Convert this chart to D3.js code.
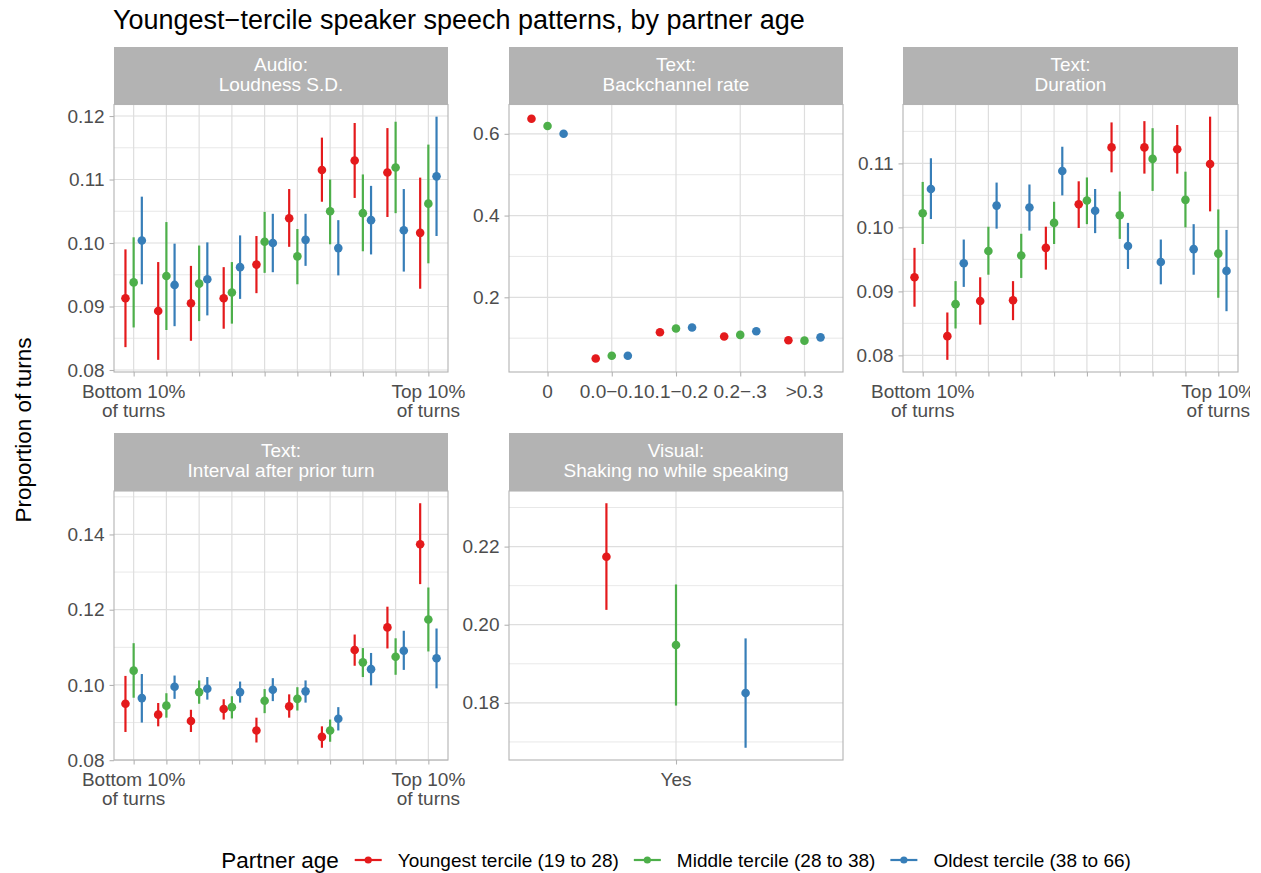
<!DOCTYPE html>
<html>
<head>
<meta charset="utf-8">
<script src="https://d3js.org/d3.v7.min.js"></script>
<style>
body { margin: 0; background: #fff; }
svg { font-family: "Liberation Sans", Arial, sans-serif; }
</style>
</head>
<body>
<svg width="1261" height="873"></svg>
<script>
// ---- data (estimate, lower, upper) ----
var terciles = ["Youngest tercile (19 to 28)", "Middle tercile (28 to 38)", "Oldest tercile (38 to 66)"];
var tercileColors = ["#e41a1c", "#4daf4a", "#377eb8"];

var decileCats = ["1", "2", "3", "4", "5", "6", "7", "8", "9", "10"];
var decileLabels = [["Bottom 10%", "of turns"], [], [], [], [], [], [], [], [], ["Top 10%", "of turns"]];
var backchannelCats = ["0", "0.0\u22120.1", "0.1\u22120.2", "0.2\u2212.3", ">0.3"];
var shakingCats = ["Yes"];

var loudnessYoungest = [[0.0913,0.0836,0.0990],[0.0893,0.0816,0.0970],[0.0905,0.0846,0.0964],[0.0913,0.0865,0.0962],[0.0966,0.0921,0.1011],
  [0.1039,0.0994,0.1085],[0.1115,0.1065,0.1166],[0.1130,0.1071,0.1189],[0.1111,0.1041,0.1181],[0.1016,0.0928,0.1103]];
var loudnessMiddle = [[0.0938,0.0867,0.1009],[0.0948,0.0863,0.1033],[0.0936,0.0877,0.0996],[0.0922,0.0873,0.0970],[0.1002,0.0953,0.1049],
  [0.0979,0.0935,0.1022],[0.1050,0.0998,0.1100],[0.1047,0.0987,0.1108],[0.1119,0.1047,0.1191],[0.1062,0.0968,0.1155]];
var loudnessOldest = [[0.1004,0.0935,0.1073],[0.0934,0.0869,0.0999],[0.0943,0.0886,0.1001],[0.0962,0.0912,0.1012],[0.1000,0.0954,0.1046],
  [0.1005,0.0964,0.1046],[0.0992,0.0949,0.1036],[0.1036,0.0982,0.1090],[0.1020,0.0955,0.1085],[0.1105,0.1011,0.1199]];

var backchannelYoungest = [[0.637,0.632,0.642],[0.0504,0.047,0.054],[0.1146,0.111,0.118],[0.104,0.100,0.108],[0.095,0.091,0.099]];
var backchannelMiddle = [[0.619,0.614,0.624],[0.0569,0.053,0.061],[0.1236,0.120,0.127],[0.108,0.104,0.112],[0.094,0.090,0.098]];
var backchannelOldest = [[0.600,0.595,0.605],[0.0569,0.053,0.061],[0.126,0.122,0.130],[0.117,0.113,0.121],[0.102,0.098,0.106]];

var durationYoungest = [[0.0922,0.0876,0.0968],[0.0830,0.0793,0.0867],[0.0885,0.0848,0.0922],[0.0886,0.0855,0.0916],[0.0968,0.0934,0.1001],
  [0.1036,0.0999,0.1072],[0.1125,0.1086,0.1164],[0.1125,0.1084,0.1166],[0.1122,0.1084,0.1160],[0.1099,0.1025,0.1173]];
var durationMiddle = [[0.1022,0.0974,0.1071],[0.0880,0.0842,0.0916],[0.0963,0.0926,0.1001],[0.0956,0.0921,0.0990],[0.1007,0.0974,0.1040],
  [0.1042,0.1005,0.1078],[0.1019,0.0982,0.1056],[0.1107,0.1057,0.1155],[0.1043,0.1000,0.1087],[0.0959,0.0890,0.1028]];
var durationOldest = [[0.1060,0.1013,0.1108],[0.0944,0.0907,0.0981],[0.1034,0.0998,0.1070],[0.1031,0.0995,0.1067],[0.1088,0.1050,0.1126],
  [0.1026,0.0991,0.1060],[0.0971,0.0935,0.1007],[0.0946,0.0911,0.0981],[0.0966,0.0926,0.1005],[0.0932,0.0869,0.0996]];

var intervalYoungest = [[0.0950,0.0875,0.1024],[0.0921,0.0890,0.0952],[0.0904,0.0875,0.0934],[0.0936,0.0908,0.0962],[0.0879,0.0847,0.0913],
  [0.0943,0.0913,0.0975],[0.0862,0.0833,0.0890],[0.1093,0.1051,0.1134],[0.1153,0.1097,0.1208],[0.1374,0.1268,0.1483]];
var intervalMiddle = [[0.1038,0.0966,0.1111],[0.0945,0.0913,0.0978],[0.0981,0.0950,0.1012],[0.0941,0.0911,0.0970],[0.0958,0.0925,0.0989],
  [0.0963,0.0932,0.0994],[0.0879,0.0849,0.0908],[0.1060,0.1021,0.1098],[0.1075,0.1027,0.1124],[0.1174,0.1089,0.1259]];
var intervalOldest = [[0.0965,0.0900,0.1029],[0.0995,0.0963,0.1025],[0.0990,0.0961,0.1021],[0.0981,0.0953,0.1009],[0.0987,0.0957,0.1018],
  [0.0983,0.0953,0.1012],[0.0910,0.0879,0.0941],[0.1042,0.0999,0.1085],[0.1091,0.1040,0.1144],[0.1071,0.0991,0.1150]];

var shakingYoungest = [[0.2174,0.2038,0.2311]];
var shakingMiddle = [[0.1948,0.1793,0.2103]];
var shakingOldest = [[0.1825,0.1685,0.1965]];

var loudnessTicks = [0.08, 0.09, 0.10, 0.11, 0.12];
var backchannelTicks = [0.2, 0.4, 0.6];
var durationTicks = [0.08, 0.09, 0.10, 0.11];
var intervalTicks = [0.08, 0.10, 0.12, 0.14];
var shakingTicks = [0.18, 0.20, 0.22];

var panels = [
  {strip: ["Audio:", "Loudness S.D."], col: 0, row: 0, cats: decileCats, labels: decileLabels,
    series: [loudnessYoungest, loudnessMiddle, loudnessOldest], ticks: loudnessTicks, fmt: ".2f"},
  {strip: ["Text:", "Backchannel rate"], col: 1, row: 0, cats: backchannelCats, labels: backchannelCats.map(function(d){ return [d]; }),
    series: [backchannelYoungest, backchannelMiddle, backchannelOldest], ticks: backchannelTicks, fmt: ".1f"},
  {strip: ["Text:", "Duration"], col: 2, row: 0, cats: decileCats, labels: decileLabels,
    series: [durationYoungest, durationMiddle, durationOldest], ticks: durationTicks, fmt: ".2f"},
  {strip: ["Text:", "Interval after prior turn"], col: 0, row: 1, cats: decileCats, labels: decileLabels,
    series: [intervalYoungest, intervalMiddle, intervalOldest], ticks: intervalTicks, fmt: ".2f"},
  {strip: ["Visual:", "Shaking no while speaking"], col: 1, row: 1, cats: shakingCats, labels: [["Yes"]],
    series: [shakingYoungest, shakingMiddle, shakingOldest], ticks: shakingTicks, fmt: ".2f"}
];

// ---- layout ----
var cols = [[114, 448], [509, 843], [903, 1238]];
var rows = [{strip: 47, top: 104.5, bottom: 372}, {strip: 433, top: 491, bottom: 760}];
var grey70 = '#b3b3b3', grey87 = '#dedede', grey30 = '#4d4d4d';
var smallSize = 19;

var svg = d3.select('svg');
svg.append('defs').append('clipPath').attr('id', 'page')
  .append('rect').attr('width', 1250).attr('height', 873);
var root = svg.append('g').attr('clip-path', 'url(#page)');

root.append('text')
  .text('Youngest\u2212tercile speaker speech patterns, by partner age')
  .attr('x', 113).attr('y', 29)
  .attr('font-size', 27).attr('fill', '#000');

root.append('text')
  .text('Proportion of turns')
  .attr('transform', 'translate(31,430)rotate(-90)')
  .style('text-anchor', 'middle')
  .attr('font-size', 22.5).attr('fill', '#000');

panels.forEach(drawPanel);

function drawPanel(p) {
  var c = cols[p.col], r = rows[p.row];
  var g = root.append('g');

  var x = d3.scalePoint().domain(p.cats).range(c).padding(0.6);
  var vals = [];
  p.series.forEach(function(s) { s.forEach(function(d) { vals.push(d[1], d[2]); }); });
  var lo = d3.min(vals), hi = d3.max(vals), pad = (hi - lo) * 0.05;
  var y = d3.scaleLinear().domain([lo - pad, hi + pad]).range([r.bottom, r.top]);

  // strip
  g.append('rect')
    .attr('x', c[0]).attr('y', r.strip)
    .attr('width', c[1] - c[0]).attr('height', r.top - r.strip)
    .attr('fill', grey70);
  p.strip.forEach(function(line, i) {
    g.append('text').text(line)
      .attr('x', (c[0] + c[1]) / 2).attr('y', r.strip + 24 + i * 20)
      .style('text-anchor', 'middle')
      .attr('font-size', smallSize).attr('fill', '#fff');
  });

  // grid
  var step = p.ticks[1] - p.ticks[0];
  var dom = y.domain();
  var minor = p.ticks.map(function(t) { return t - step / 2; })
    .concat([p.ticks[p.ticks.length - 1] + step / 2])
    .filter(function(v) { return v >= dom[0] && v <= dom[1]; });

  g.selectAll('.minor').data(minor).enter().append('line')
    .attr('x1', c[0]).attr('x2', c[1])
    .attr('y1', function(d) { return y(d); }).attr('y2', function(d) { return y(d); })
    .attr('stroke', grey87).attr('stroke-width', 0.7);
  g.selectAll('.major').data(p.ticks).enter().append('line')
    .attr('x1', c[0]).attr('x2', c[1])
    .attr('y1', function(d) { return y(d); }).attr('y2', function(d) { return y(d); })
    .attr('stroke', grey87).attr('stroke-width', 1.2);
  g.selectAll('.vmajor').data(p.cats).enter().append('line')
    .attr('x1', function(d) { return x(d); }).attr('x2', function(d) { return x(d); })
    .attr('y1', r.top).attr('y2', r.bottom)
    .attr('stroke', grey87).attr('stroke-width', 1.2);

  // axes
  var ya = g.append('g')
    .attr('transform', 'translate(' + c[0] + ',0)')
    .call(d3.axisLeft(y).tickValues(p.ticks).tickFormat(d3.format(p.fmt)).tickSize(4.5).tickPadding(5));
  ya.select('.domain').remove();
  ya.selectAll('line').attr('stroke', grey70).attr('stroke-width', 1.1);
  ya.selectAll('text').attr('fill', grey30).attr('font-size', smallSize)
    .attr('font-family', '"Liberation Sans", Arial, sans-serif');

  var xa = g.append('g')
    .attr('transform', 'translate(0,' + r.bottom + ')')
    .call(d3.axisBottom(x).tickSize(4.5).tickFormat(''));
  xa.select('.domain').remove();
  xa.selectAll('line').attr('stroke', grey70).attr('stroke-width', 1.1);

  p.cats.forEach(function(cat, i) {
    var t = g.append('text')
      .attr('x', x(cat)).attr('y', r.bottom + 26)
      .style('text-anchor', 'middle')
      .attr('font-size', smallSize).attr('fill', grey30);
    p.labels[i].forEach(function(line, j) {
      t.append('tspan').text(line).attr('x', x(cat)).attr('dy', j === 0 ? 0 : 19);
    });
  });

  // point ranges
  p.series.forEach(function(s, k) {
    var off = (k - 1) * 0.25 * x.step();
    g.selectAll('.range' + k).data(s).enter().append('line')
      .attr('x1', function(d, i) { return x(p.cats[i]) + off; })
      .attr('x2', function(d, i) { return x(p.cats[i]) + off; })
      .attr('y1', function(d) { return y(d[1]); })
      .attr('y2', function(d) { return y(d[2]); })
      .attr('stroke', tercileColors[k]).attr('stroke-width', 2.2);
    g.selectAll('.pt' + k).data(s).enter().append('circle')
      .attr('cx', function(d, i) { return x(p.cats[i]) + off; })
      .attr('cy', function(d) { return y(d[0]); })
      .attr('r', 4.3)
      .attr('fill', tercileColors[k]);
  });

  // panel border
  g.append('rect')
    .attr('x', c[0]).attr('y', r.top)
    .attr('width', c[1] - c[0]).attr('height', r.bottom - r.top)
    .attr('fill', 'none').attr('stroke', grey70).attr('stroke-width', 1.1);
}

// ---- legend ----
var legend = root.append('g');
var lx = 0;
var ltitle = legend.append('text').text('Partner age')
  .attr('x', lx).attr('y', 868).attr('font-size', 22.5).attr('fill', '#000');
lx += ltitle.node().getComputedTextLength() + 16;
terciles.forEach(function(name, k) {
  legend.append('line')
    .attr('x1', lx).attr('x2', lx + 27).attr('y1', 860).attr('y2', 860)
    .attr('stroke', tercileColors[k]).attr('stroke-width', 2.2);
  legend.append('circle')
    .attr('cx', lx + 13.5).attr('cy', 860).attr('r', 3.6)
    .attr('fill', tercileColors[k]);
  lx += 27 + 16;
  var t = legend.append('text').text(name)
    .attr('x', lx).attr('y', 866.5).attr('font-size', smallSize).attr('fill', '#000');
  lx += t.node().getComputedTextLength() + 15;
});
lx -= 15;
legend.attr('transform', 'translate(' + (676 - lx / 2) + ',0)');
</script>
</body>
</html>
